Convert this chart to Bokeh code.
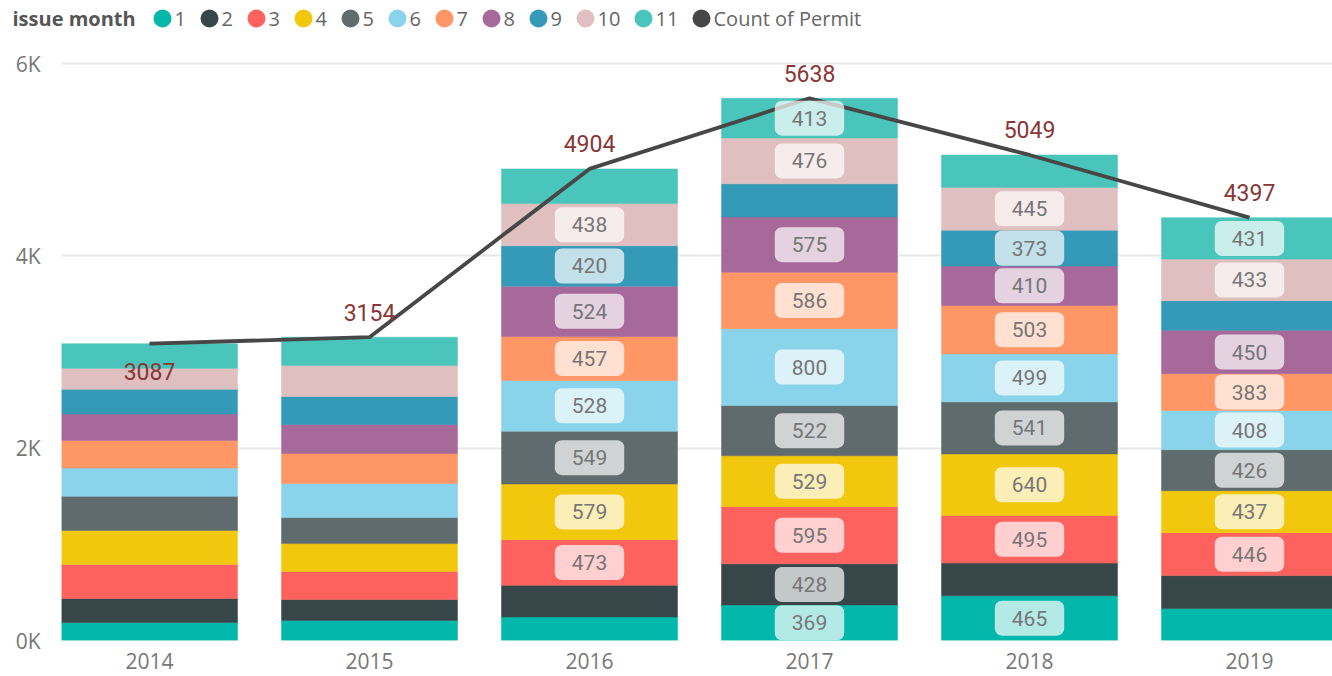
from bokeh.plotting import figure
from bokeh.models import Range1d, FixedTicker, ColumnDataSource
from bokeh.embed import file_html
from bokeh.resources import INLINE
from bokeh.core.properties import value

# ---------------- data ----------------
years = ["2014", "2015", "2016", "2017", "2018", "2019"]
months = ["1", "2", "3", "4", "5", "6", "7", "8", "9", "10", "11"]

m1 = [187, 208, 245, 369, 465, 332]
m2 = [250, 218, 330, 428, 340, 343]
m3 = [354, 291, 473, 595, 495, 446]
m4 = [354, 291, 579, 529, 640, 437]
m5 = [354, 270, 549, 522, 541, 426]
m6 = [294, 354, 528, 800, 499, 408]
m7 = [288, 312, 457, 586, 503, 383]
m8 = [274, 302, 524, 575, 410, 450]
m9 = [257, 291, 420, 345, 373, 308]
m10 = [218, 322, 438, 476, 445, 433]
m11 = [257, 295, 361, 413, 338, 431]

count_of_permit = [3087, 3154, 4904, 5638, 5049, 4397]

# which segment labels are visible (the rest are hidden as in the original)
shown_labels = {
    "2014": [],
    "2015": [],
    "2016": ["3", "4", "5", "6", "7", "8", "9", "10"],
    "2017": ["1", "2", "3", "4", "5", "6", "7", "8", "10", "11"],
    "2018": ["1", "3", "4", "5", "6", "7", "8", "9", "10"],
    "2019": ["3", "4", "5", "6", "7", "8", "10", "11"],
}
total_label_side = ["below", "above", "above", "above", "above", "above"]

y_ticks = [0, 2000, 4000, 6000]

# ---------------- style ----------------
colors = ["#01B8AA", "#374649", "#FD625E", "#F2C80F", "#5F6B6D", "#8AD4EB",
          "#FE9666", "#A66999", "#3599B8", "#DFBFBF", "#4AC5BB"]
line_color = "#474747"
axis_font = "Open Sans"
label_font = "Roboto"

series = [m1, m2, m3, m4, m5, m6, m7, m8, m9, m10, m11]
xpos = list(range(len(years)))

data = {"x": xpos}
for m, s in zip(months, series):
    data[m] = s
source = ColumnDataSource(data)

W = 1332
LEG_H = 36
MAIN_H = 640
LEFT = 61

# ---------------- legend figure (separate root, full-width frame) ----------------
leg = figure(width=W, height=LEG_H, x_range=Range1d(0, W), y_range=Range1d(0, LEG_H),
             x_axis_type=None, y_axis_type=None, toolbar_location=None,
             output_backend="svg", min_border=0, outline_line_color=None)
leg.grid.visible = False
yc = LEG_H - 18
leg.text(x=[12], y=[yc], text=["issue month"], text_font=value(axis_font),
         text_font_size="20px", text_font_style="bold", text_color="#555555",
         text_align="left", text_baseline="middle")
leg_labels = months + ["Count of Permit"]
leg_colors = colors + [line_color]
cx, tx, lbl = [], [], []
x = 153
for name in leg_labels:
    cx.append(x + 9)
    tx.append(x + 21)
    lbl.append(name)
    x += 36 + 11 * len(name)
leg.scatter(x=cx, y=[yc] * len(cx), size=18, marker="circle",
            fill_color=leg_colors, line_color=None)
leg.text(x=tx, y=[yc] * len(tx), text=lbl, text_font=value(axis_font),
         text_font_size="20px", text_color="#666666",
         text_align="left", text_baseline="middle")

# ---------------- main figure ----------------
BOTTOM = 36
frame_h = MAIN_H - BOTTOM
y_end = frame_h / 577 * 6000
p = figure(width=W, height=MAIN_H, x_range=Range1d(-0.4, -0.4 + (W - LEFT) / 220),
           y_range=Range1d(0, y_end), toolbar_location=None, output_backend="svg",
           min_border_left=LEFT, min_border_right=0, min_border_top=0,
           min_border_bottom=BOTTOM, outline_line_color=None)

p.vbar_stack(months, x="x", width=0.8, source=source, fill_color=colors,
             line_color=colors, line_width=0.5)

p.line(xpos, count_of_permit, line_color=line_color, line_width=3.8)

# segment labels
lx, ly, lt = [], [], []
for i, yr in enumerate(years):
    bottom = 0
    for m, s in zip(months, series):
        v = s[i]
        if m in shown_labels[yr]:
            lx.append(i)
            ly.append(bottom + v / 2)
            lt.append(str(v))
        bottom += v
p.text(x=lx, y=ly, text=lt, text_font=value(label_font), text_font_size="21px",
       text_color="#767676", text_align="center", text_baseline="middle",
       background_fill_color="white", background_fill_alpha=0.7,
       padding=dict(left=17, right=17, top=10, bottom=10), border_radius=7)

# total labels
offs = [28 if s == "below" else -25 for s in total_label_side]
p.text(x=xpos, y=count_of_permit, text=[str(v) for v in count_of_permit],
       y_offset=offs, text_font=value(label_font), text_font_size="23px",
       text_color="#8a3636", text_align="center", text_baseline="middle")

# axes
p.xaxis.ticker = FixedTicker(ticks=xpos)
p.xaxis.major_label_overrides = {i: y for i, y in enumerate(years)}
p.yaxis.ticker = FixedTicker(ticks=y_ticks)
p.yaxis.major_label_overrides = {t: f"{t // 1000}K" for t in y_ticks}
for ax in (p.xaxis, p.yaxis):
    ax.axis_line_color = None
    ax.major_tick_line_color = None
    ax.minor_tick_line_color = None
    ax.major_tick_out = 0
    ax.major_label_text_font = axis_font
    ax.major_label_text_font_size = "21px"
    ax.major_label_text_color = "#777777"
p.xaxis.major_label_standoff = 12
p.yaxis.major_label_standoff = 21
p.xgrid.visible = False
p.ygrid.ticker = FixedTicker(ticks=y_ticks)
p.ygrid.grid_line_color = "#e8e8e8"
p.ygrid.grid_line_width = 2

open("out.html", "w").write(file_html([leg, p], INLINE))
